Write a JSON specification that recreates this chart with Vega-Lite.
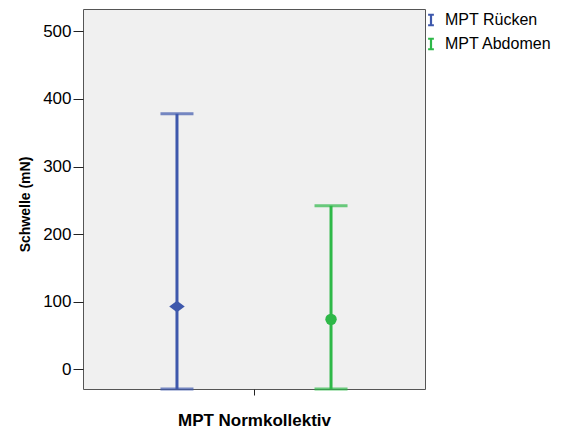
{
  "$schema": "https://vega.github.io/schema/vega-lite/v6.json",
  "autosize": "none",
  "width": 342,
  "height": 380,
  "padding": {"left": 83, "top": 9, "right": 145, "bottom": 49},
  "background": "white",
  "config": {
    "view": {"fill": "#f0f0f0", "stroke": "#555555", "strokeWidth": 1},
    "font": "Liberation Sans",
    "axis": {"labelFont": "Liberation Sans", "titleFont": "Liberation Sans", "labelColor": "#000000", "titleColor": "#000000", "tickColor": "#222222", "domain": false, "grid": false}
  },
  "data": {
    "values": [
      {"group": "MPT Normkollektiv", "series": "MPT Rücken", "mean": 93, "lower": -29, "upper": 378},
      {"group": "MPT Normkollektiv", "series": "MPT Abdomen", "mean": 74, "lower": -29, "upper": 242}
    ]
  },
  "resolve": {"scale": {"color": "independent"}, "legend": {"color": "independent"}},
  "encoding": {
    "x": {
      "field": "group", "type": "nominal",
      "scale": {"paddingInner": 0, "paddingOuter": 0},
      "axis": {"title": "MPT Normkollektiv", "labels": false, "ticks": true, "tickSize": 6, "bandPosition": 0.5, "titleFontSize": 17, "titleFontWeight": "bold", "titlePadding": 17}
    },
    "xOffset": {
      "field": "series", "type": "nominal",
      "sort": ["MPT Rücken", "MPT Abdomen"],
      "scale": {"paddingInner": 0, "paddingOuter": 0.11}
    }
  },
  "layer": [
    {
      "mark": {"type": "rule", "strokeWidth": 3, "clip": false},
      "encoding": {
        "y": {
          "field": "lower", "type": "quantitative",
          "scale": {"domain": [-29, 533], "nice": false, "zero": false},
          "axis": {"values": [0, 100, 200, 300, 400, 500], "title": "Schwelle (mN)", "labelFontSize": 17, "tickSize": 10, "labelPadding": 2, "titleFontSize": 14, "titleFontWeight": "bold", "titlePadding": 10, "titleY": 195}
        },
        "y2": {"field": "upper"},
        "color": {
          "field": "series", "type": "nominal",
          "sort": ["MPT Rücken", "MPT Abdomen"],
          "scale": {"domain": ["MPT Rücken", "MPT Abdomen"], "range": ["#3E58AC", "#2EB848"]},
          "legend": {
            "title": null, "orient": "none", "legendX": 340, "legendY": 3,
            "symbolType": "M-0.55,-1H0.55M0,-1V1M-0.55,1H0.55",
            "symbolSize": 110, "symbolStrokeWidth": 2.2, "symbolFillColor": "transparent",
            "labelFontSize": 16, "labelFont": "Liberation Sans", "labelColor": "#000000",
            "labelOffset": 6, "rowPadding": 4, "padding": 0
          }
        }
      }
    },
    {
      "mark": {"type": "tick", "thickness": 3, "size": 33, "orient": "horizontal", "clip": false},
      "encoding": {
        "y": {"field": "upper", "type": "quantitative"},
        "color": {"field": "series", "type": "nominal", "scale": {"domain": ["MPT Rücken", "MPT Abdomen"], "range": ["#3E58AC", "#2EB848"]}, "legend": null}
      }
    },
    {
      "mark": {"type": "tick", "thickness": 3, "size": 33, "orient": "horizontal", "clip": false},
      "encoding": {
        "y": {"field": "lower", "type": "quantitative"},
        "color": {"field": "series", "type": "nominal", "scale": {"domain": ["MPT Rücken", "MPT Abdomen"], "range": ["#3E58AC", "#2EB848"]}, "legend": null}
      }
    },
    {
      "mark": {"type": "point", "filled": true, "opacity": 1},
      "encoding": {
        "y": {"field": "mean", "type": "quantitative"},
        "color": {"field": "series", "type": "nominal", "scale": {"domain": ["MPT Rücken", "MPT Abdomen"], "range": ["#3E58AC", "#2EB848"]}, "legend": null},
        "shape": {
          "field": "series", "type": "nominal",
          "scale": {"domain": ["MPT Rücken", "MPT Abdomen"], "range": ["M-1,0L0,-0.75L1,0L0,0.75Z", "circle"]},
          "legend": null
        },
        "size": {
          "field": "series", "type": "nominal",
          "scale": {"domain": ["MPT Rücken", "MPT Abdomen"], "range": [240, 130]},
          "legend": null
        }
      }
    }
  ]
}
